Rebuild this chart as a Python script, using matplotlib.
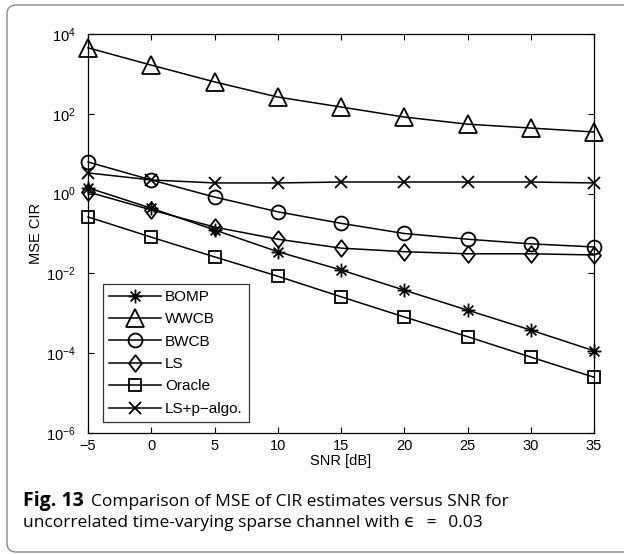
import matplotlib
matplotlib.use('Agg')
import matplotlib.pyplot as plt
from matplotlib.patches import FancyBboxPatch
from matplotlib.path import Path
from matplotlib.transforms import IdentityTransform
import numpy as np

plt.rcParams['font.family'] = ['Liberation Sans', 'DejaVu Sans']
plt.rcParams['mathtext.fontset'] = 'custom'
plt.rcParams['mathtext.rm'] = 'Liberation Sans'
plt.rcParams['mathtext.it'] = 'Liberation Sans:italic'

# SNR grid and MSE values
snr = [-5, 0, 5, 10, 15, 20, 25, 30, 35]
bomp = [1.4, 0.43, 0.123, 0.035, 0.0122, 0.0038, 0.0012, 0.00038, 0.000115]
wwcb = [4500, 1660, 630, 263, 148, 83, 55, 44, 35]
bwcb = [6.2, 2.2, 0.82, 0.35, 0.18, 0.10, 0.072, 0.055, 0.046]
ls = [1.1, 0.39, 0.145, 0.072, 0.043, 0.035, 0.031, 0.031, 0.029]
oracle = [0.26, 0.081, 0.026, 0.0085, 0.0026, 0.00081, 0.00026, 0.00008, 0.000025]
ls_p = [3.3, 2.2, 1.85, 1.85, 1.95, 1.95, 1.95, 1.95, 1.85]

names = ['BOMP', 'WWCB', 'BWCB', 'LS', 'Oracle', 'LS+p\u2212algo.']
series = [bomp, wwcb, bwcb, ls, oracle, ls_p]

# matlab-like asterisk and diamond
c = 0.7071
asterisk = Path([(-1, 0), (1, 0), (0, -1), (0, 1), (-c, -c), (c, c), (-c, c), (c, -c)],
                [Path.MOVETO, Path.LINETO] * 4)
diamond = Path([(0, 1), (0.78, 0), (0, -1), (-0.78, 0), (0, 1)],
               [Path.MOVETO, Path.LINETO, Path.LINETO, Path.LINETO, Path.CLOSEPOLY])
markers = [asterisk, '^', 'o', diamond, 's', 'x']
msizes = [10, 13, 10, 12, 8.5, 8]

W, H = 624, 554
fig = plt.figure(figsize=(W / 100, H / 100), dpi=100)

# rounded frame around figure + caption (pixel coords), open on the right
frame = FancyBboxPatch((7, 2), 800, 547,
                       boxstyle='round,pad=0,rounding_size=9',
                       transform=IdentityTransform(), facecolor='none',
                       edgecolor='#8a8a8a', lw=1.0)
fig.add_artist(frame)

ax = fig.add_axes([88 / W, 1 - 433 / H, (594 - 88) / W, (433 - 34) / H])
for vals, name, m, ms in zip(series, names, markers, msizes):
    ax.plot(snr, vals, color='black', lw=1.1, marker=m, markersize=ms,
            markerfacecolor='none', markeredgecolor='black', markeredgewidth=1.3,
            label=name, clip_on=False)

ax.set_yscale('log')
ax.set_xlim(-5, 35)
ax.set_ylim(1e-6, 1e4)
ax.set_xticks(snr)
ax.set_xticklabels(['\u22125' if v < 0 else str(v) for v in snr])
ax.set_yticks([1e-6, 1e-4, 1e-2, 1e0, 1e2, 1e4])
ax.yaxis.set_minor_locator(matplotlib.ticker.NullLocator())
ax.tick_params(direction='in', top=True, right=True, length=4, width=0.8,
               labelsize=10.5, colors='black', pad=4)
ax.tick_params(axis='y', pad=9)
for s in ax.spines.values():
    s.set_linewidth(0.9)
ax.set_xlabel('SNR [dB]', fontsize=10.5, labelpad=1)
ax.set_ylabel('MSE CIR', fontsize=10.5, labelpad=2)

leg = ax.legend(loc='lower left', bbox_to_anchor=(103 / W, 1 - 422 / H),
                bbox_transform=fig.transFigure, fontsize=11, frameon=True,
                fancybox=False, edgecolor='black', handlelength=3.4,
                borderpad=0.4, labelspacing=0.55, handletextpad=0.25,
                borderaxespad=0)
leg.get_frame().set_linewidth(0.9)

# caption
cap_font = ['Open Sans', 'DejaVu Sans']
fig.text(23 / W, 1 - 506 / H, 'Fig. 13', fontsize=14, fontweight='bold',
         family=cap_font, va='baseline')
fig.text(91 / W, 1 - 506 / H, 'Comparison of MSE of CIR estimates versus SNR for',
         fontsize=12.5, family=cap_font, va='baseline')
fig.text(23 / W, 1 - 527 / H,
         'uncorrelated time-varying sparse channel with \u03f5\u2002\u2009=\u2002\u20090.03',
         fontsize=12.5, family=cap_font, va='baseline')

fig.savefig('out.png', dpi=100)
